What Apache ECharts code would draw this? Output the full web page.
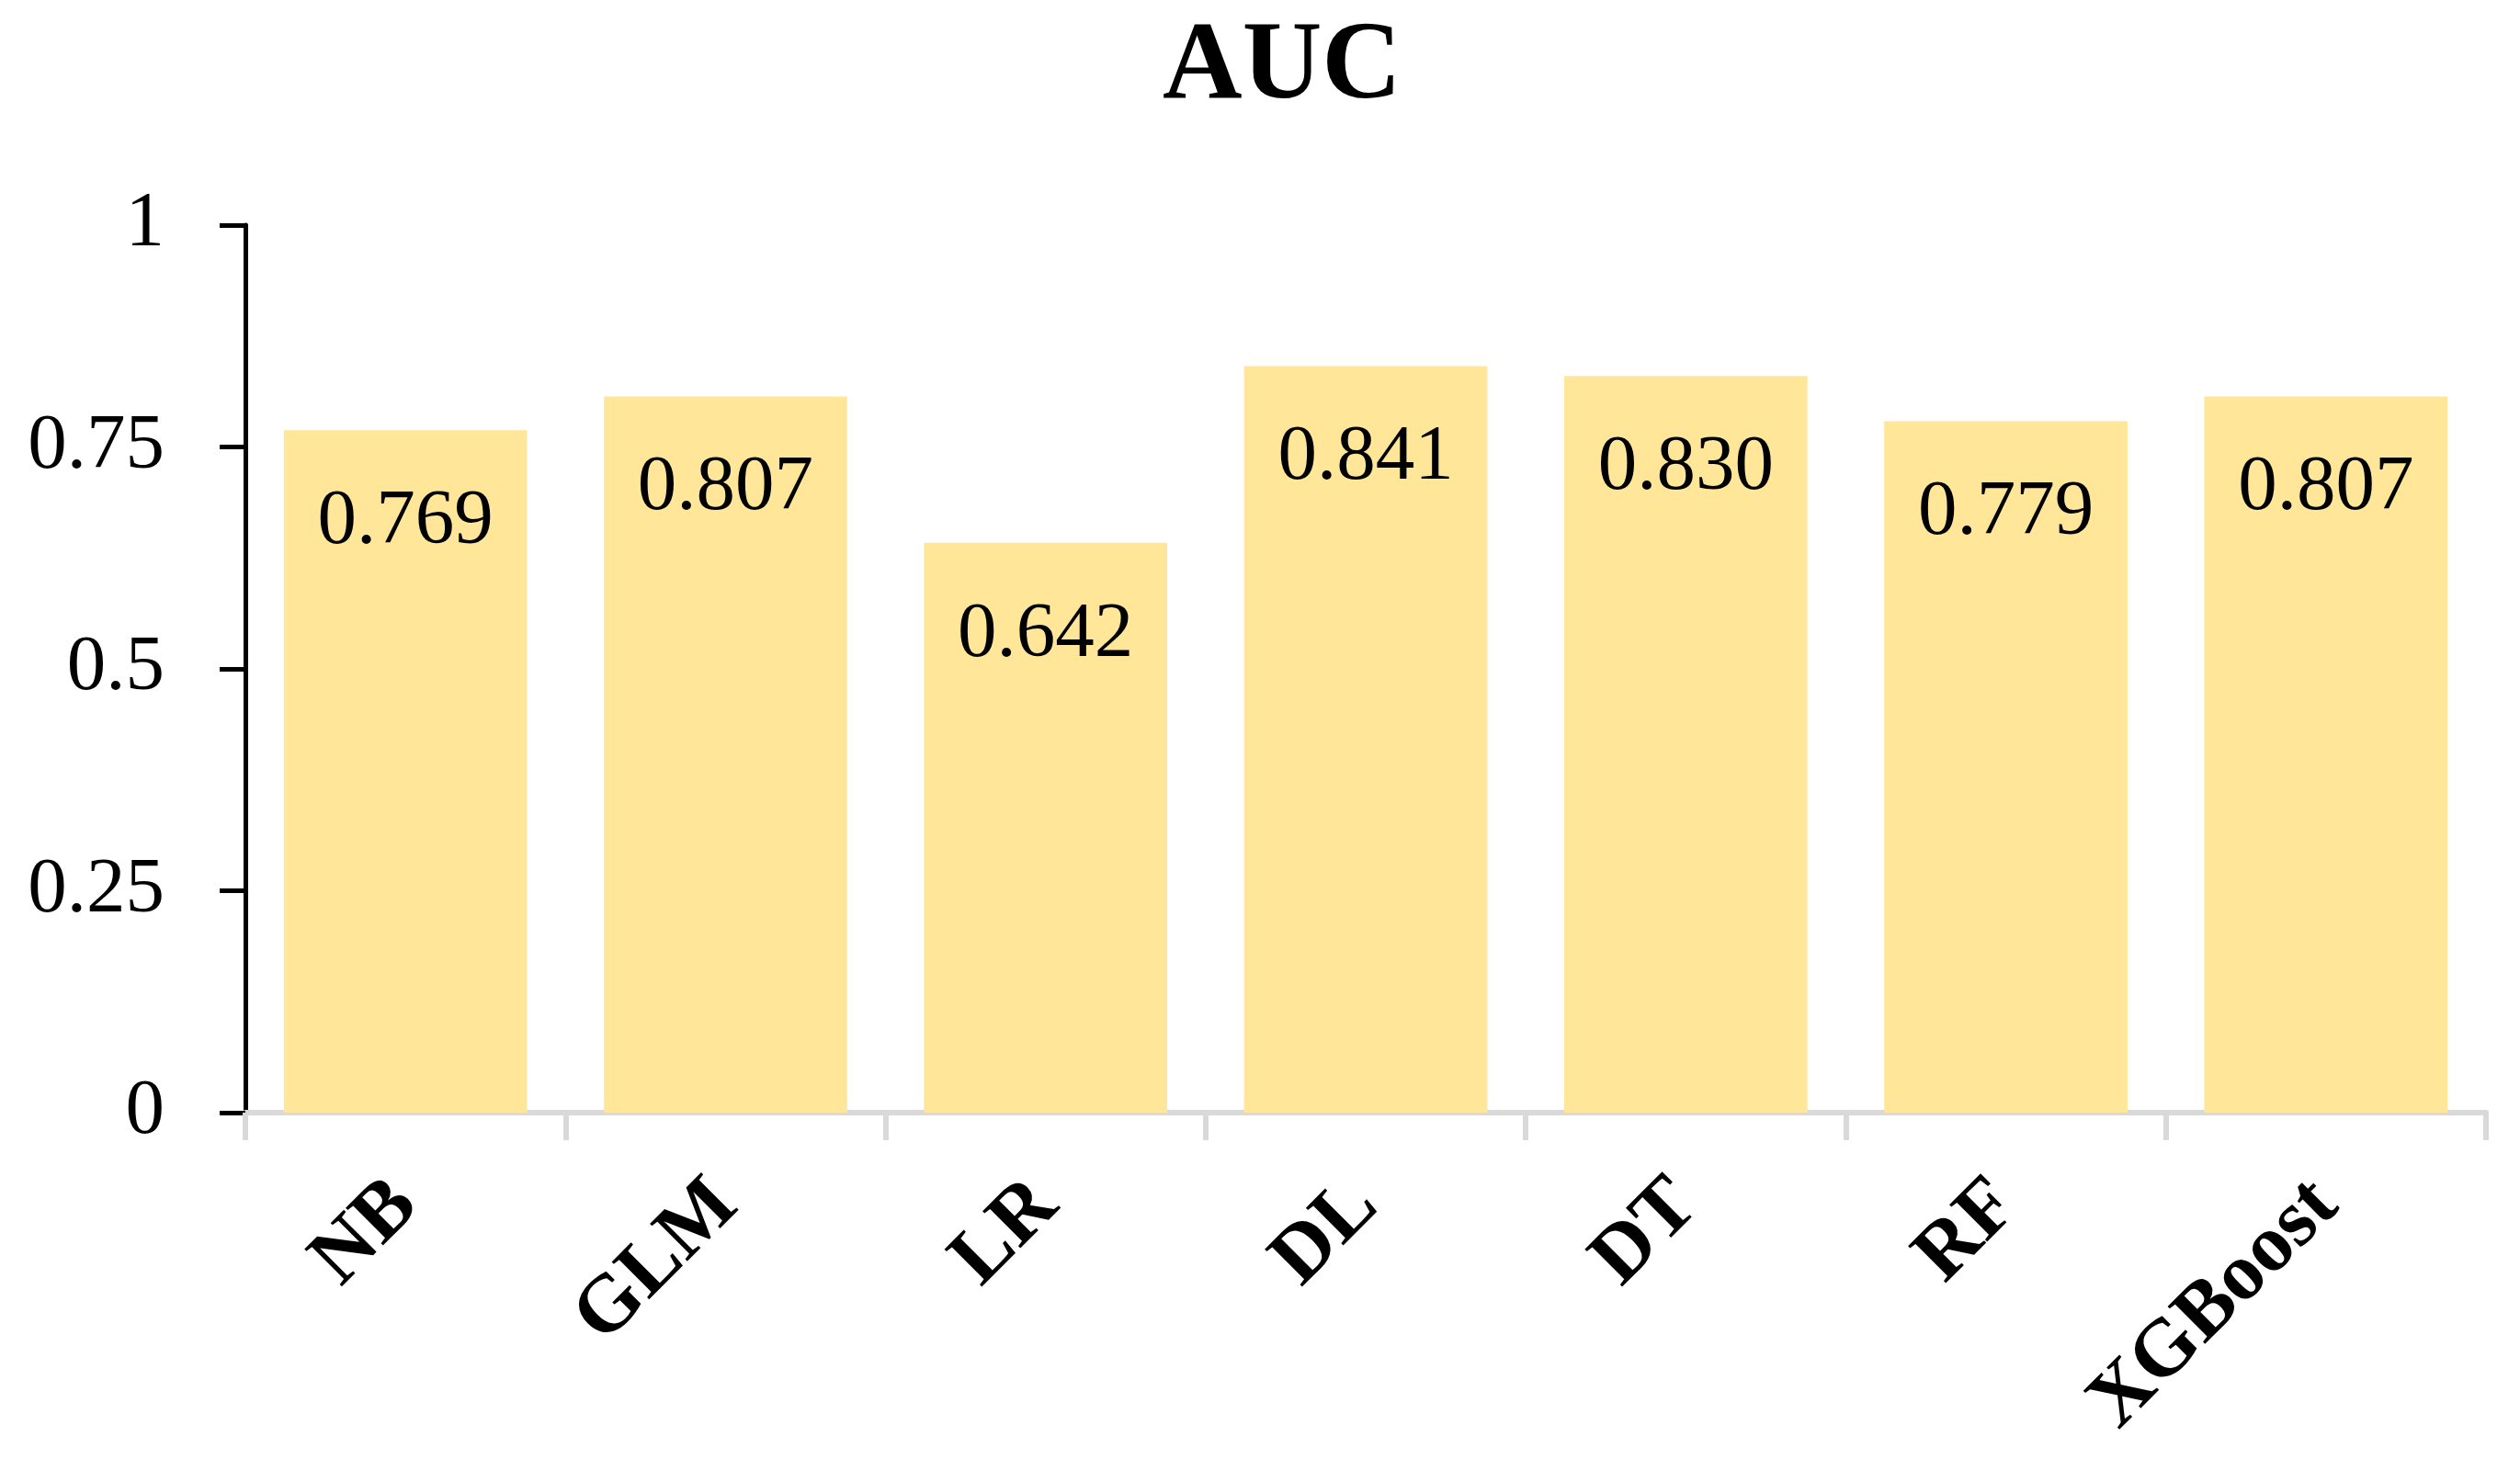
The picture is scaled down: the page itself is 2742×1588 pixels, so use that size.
<!DOCTYPE html>
<html lang="en" style="height: 100%">
<head>
    <meta charset="UTF-8">
    <title>AUC</title>
    <script src="https://cdn.jsdelivr.net/npm/echarts@6/dist/echarts.min.js"></script>
</head>
<body style="height: 100%; margin: 0; background: #fff">
<div id="container" style="width: 2742px; height: 1588px"></div>
<script type="text/javascript">
    var models = ['NB', 'GLM', 'LR', 'DL', 'DT', 'RF', 'XGBoost'];
    var aucValues = [0.769, 0.807, 0.642, 0.841, 0.830, 0.779, 0.807];
    var yTicks = [0, 0.25, 0.5, 0.75, 1];

    var serif = '"Liberation Serif", "DejaVu Serif", serif';
    var myChart = echarts.init(document.getElementById('container'));

    var option = {
        backgroundColor: '#fff',
        animation: false,
        title: {
            text: 'AUC',
            left: 1390,
            textAlign: 'center',
            top: 10,
            textStyle: {
                fontFamily: serif,
                fontWeight: 'bold',
                fontSize: 120,
                color: '#000'
            }
        },
        grid: {
            left: 267,
            right: 37,
            top: 245,
            bottom: 377
        },
        xAxis: {
            type: 'category',
            data: models,
            axisLine: {lineStyle: {color: '#d9d9d9', width: 6}},
            axisTick: {show: true, interval: 0, length: 30, lineStyle: {color: '#d9d9d9', width: 6}},
            axisLabel: {
                interval: 0,
                rotate: 45,
                margin: 88,
                fontFamily: serif,
                fontWeight: 'bold',
                fontSize: 88,
                color: '#000'
            }
        },
        yAxis: {
            type: 'value',
            min: yTicks[0],
            max: yTicks[yTicks.length - 1],
            interval: 0.25,
            splitLine: {show: false},
            axisLine: {show: true, lineStyle: {color: '#000', width: 5}},
            axisTick: {show: true, length: 28, lineStyle: {color: '#000', width: 5}},
            axisLabel: {
                margin: 88,
                fontFamily: serif,
                fontSize: 85,
                color: '#000',
                formatter: function (v) { return String(v); }
            }
        },
        series: [{
            type: 'bar',
            data: aucValues,
            barCategoryGap: '24%',
            itemStyle: {color: '#FFE699'},
            label: {
                show: true,
                position: 'insideTop',
                distance: 58,
                fontFamily: serif,
                fontSize: 85,
                color: '#000',
                formatter: function (p) { return p.value.toFixed(3); }
            }
        }]
    };
    myChart.setOption(option);
</script>
</body>
</html>
